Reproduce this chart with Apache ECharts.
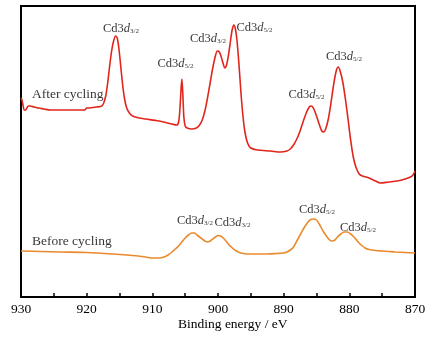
<!DOCTYPE html>
<html>
<head>
<meta charset="utf-8">
<script src="https://cdn.jsdelivr.net/npm/echarts@6/dist/echarts.min.js"></script>
<style>html,body{margin:0;padding:0;background:#fff}#c{width:442px;height:339px}</style>
</head>
<body>
<div id="c"></div>
<script>
// Binding energy (eV) and intensity (a.u.)
var afterX = [930.0,929.85,929.7,929.5,929.3,929.1,928.9,928.6,928.0,927.4,926.5,925.5,923.0,921.0,920.3,920.0,919.7,918.5,917.7,917.4,917.1,916.8,916.5,916.2,915.9,915.6,915.35,915.1,914.8,914.5,914.2,913.9,913.5,913.0,912.0,911.0,909.0,907.0,906.3,906.0,905.8,905.65,905.5,905.35,905.2,905.0,904.7,904.0,903.3,902.8,902.4,902.0,901.6,901.2,900.8,900.4,900.1,899.8,899.5,899.2,898.95,898.7,898.4,898.1,897.85,897.6,897.35,897.1,896.8,896.5,896.2,895.9,895.5,895.0,894.0,892.0,890.5,889.5,889.0,888.5,888.0,887.5,887.0,886.5,886.1,885.8,885.4,885.0,884.6,884.2,883.9,883.6,883.2,882.8,882.4,882.0,881.7,881.4,881.0,880.6,880.2,879.8,879.4,879.0,878.5,878.0,877.0,876.0,875.3,874.0,872.7,871.5,870.7,870.3,870.0];
var afterY = [199,197,192,187,187,189,191,191,190,189,188,187,187,187,187,189,189,190,191,194,201,214,231,246,256,261,259,249,230,211,197,189,184,181,179,178,176,173,172,175,188,205,218,202,180,171,169,168,169,172,177,186,199,214,229,241,246,245,240,233,229,232,242,256,267,272,268,256,232,204,181,165,154,149,147,146,145,146,148,152,158,166,176,185,190,191,188,181,173,166,165,168,178,194,212,226,230,226,215,198,178,157,140,130,123,121,119,116,114,115,116,118,120,122,126];
var beforeX = [930.0,927.0,924.0,920.0,916.0,913.0,911.0,910.0,909.0,908.2,907.6,907.0,906.5,906.0,905.5,905.0,904.5,904.0,903.6,903.2,902.8,902.4,902.0,901.6,901.2,900.8,900.4,900.0,899.6,899.2,898.8,898.3,897.8,897.2,896.5,895.5,894.0,892.5,891.0,890.0,889.5,889.0,888.5,888.0,887.5,887.0,886.5,886.0,885.5,885.0,884.5,884.0,883.5,883.0,882.6,882.2,881.8,881.3,880.8,880.3,879.8,879.3,878.8,878.2,877.6,877.0,876.0,875.0,874.0,873.0,871.5,870.0];
var beforeY = [46,45.5,45,44.5,43,41.5,40,39,39,40,42,45,48,51,55,59,62,64,64,62,60,58,56,55,56,58,60,61.5,61,59,56,52,49,46,44,43,43,43,43.5,44,45,47,50,56,62,68,73,77,78,77,72,66,61,57,56,57,60,63,65,65,63,60,56,52,49,47.5,46.5,46,45.5,45,44.5,44];
// Peak annotations: anchor (eV, intensity) and spin-orbit subscript
var peakX = [914.77,906.47,901.52,894.44,886.52,880.81,903.5,897.8,884.93,878.68];
var peakY = [269,234,259,270,203,241,77,75,88,70];
var peakSub = ['3/2','5/2','3/2','5/2','5/2','5/2','3/2','3/2','5/2','5/2'];
// Series names
var seriesNames = ['After cycling','Before cycling'];
var nameX = [928.33,928.33];
var nameY = [203,56];
var xTicks = [930,920,910,900,890,880,870];

function pairs(xs, ys){ return xs.map(function(x,i){ return [x, ys[i]]; }); }
var serif = '"Times New Roman","Liberation Serif",serif';

var chart = echarts.init(document.getElementById('c'), null, {renderer:'canvas'});
chart.setOption({
  animation:false,
  backgroundColor:'#fff',
  grid:{left:21,right:27,top:6,bottom:42,show:true,borderColor:'#000',borderWidth:2,backgroundColor:'transparent'},
  xAxis:{type:'value',inverse:true,min:xTicks[xTicks.length-1],max:xTicks[0],interval:10,
    axisLine:{lineStyle:{color:'#000',width:2}},
    axisTick:{inside:true,length:4,lineStyle:{color:'#000',width:1.5}},
    minorTick:{show:true,splitNumber:2,length:4,lineStyle:{color:'#000',width:1.5}},
    axisLabel:{color:'#000',fontFamily:serif,fontSize:13.5,margin:5},
    splitLine:{show:false}},
  yAxis:{type:'value',min:0,max:291,axisLine:{show:true,lineStyle:{color:'#000',width:2}},
    axisTick:{show:false},axisLabel:{show:false},splitLine:{show:false}},
  graphic:[{type:'text',left:178,top:317,style:{text:'Binding energy / eV',font:'13.5px '+serif,fill:'#000'}}],
  series:[
    {type:'line',data:pairs(afterX,afterY),symbol:'none',smooth:0.3,lineStyle:{color:'#e0261c',width:1.6}},
    {type:'line',data:pairs(beforeX,beforeY),symbol:'none',smooth:0.3,lineStyle:{color:'#ea8a2e',width:1.6}},
    {type:'scatter',symbolSize:0,silent:true,
      data:peakX.map(function(x,i){ return {value:[x,peakY[i]],sub:peakSub[i]}; }),
      label:{show:true,position:'inside',
        formatter:function(p){ return '{n|Cd3}{i|d}{s|'+p.data.sub+'}'; },
        rich:{n:{fontFamily:serif,fontSize:12.5,color:'#000',lineHeight:14,verticalAlign:'bottom'},
              i:{fontFamily:serif,fontSize:12.5,fontStyle:'italic',color:'#000',lineHeight:14,verticalAlign:'bottom'},
              s:{fontFamily:serif,fontSize:7,color:'#000',lineHeight:14,verticalAlign:'bottom',padding:[3,0,0,0]}}}},
    {type:'scatter',symbolSize:0,silent:true,
      data:nameX.map(function(x,i){ return {value:[x,nameY[i]],name:seriesNames[i]}; }),
      label:{show:true,position:'right',distance:0,formatter:'{b}',fontFamily:serif,fontSize:13.5,color:'#000'}}
  ]
});
</script>
</body>
</html>
